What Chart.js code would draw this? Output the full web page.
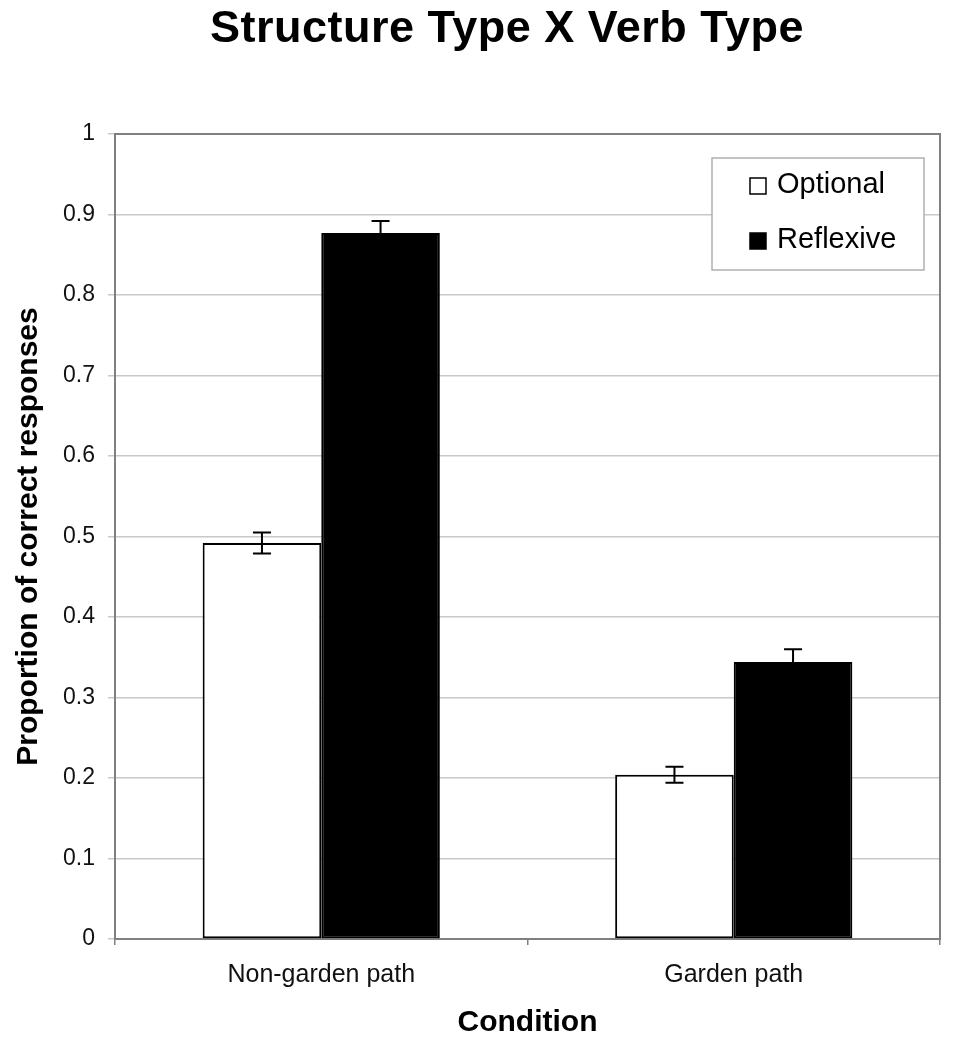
<!DOCTYPE html>
<html>
<head>
<meta charset="utf-8">
<script src="https://cdn.jsdelivr.net/npm/chart.js@4.4.1/dist/chart.umd.min.js"></script>
<style>
  html, body { margin: 0; padding: 0; background: #fff; }
  canvas { display: block; }
</style>
</head>
<body>
<canvas id="myChart" width="953" height="1050"></canvas>
<script>
const categories = ['Non-garden path', 'Garden path'];
const seriesNames = ['Optional', 'Reflexive'];
const optionalValues = [0.492, 0.204];
const reflexiveValues = [0.877, 0.344];
const optionalErrors = [0.013, 0.010];
const reflexiveErrors = [0.015, 0.016];
const yTickLabels = ['0', '0.1', '0.2', '0.3', '0.4', '0.5', '0.6', '0.7', '0.8', '0.9', '1'];
const chartTitle = 'Structure Type X Verb Type';

const fontFamily = '"Liberation Sans", Arial, Helvetica, sans-serif';
const ctx = document.getElementById('myChart');

// title sits a little right of the canvas centre, so draw it by hand
const titleText = {
    id: 'titleText',
    afterDraw(chart) {
        const { ctx } = chart;
        ctx.save();
        ctx.font = 'bold 45px ' + fontFamily;
        ctx.letterSpacing = '0.5px';
        ctx.fillStyle = '#000';
        ctx.textAlign = 'center';
        ctx.textBaseline = 'alphabetic';
        ctx.fillText(chartTitle, 507, 42);
        ctx.restore();
    }
};

// gray frame round the plot area
const frame = {
    id: 'frame',
    beforeDatasetsDraw(chart) {
        const { ctx, chartArea: a } = chart;
        ctx.save();
        ctx.strokeStyle = '#808080';
        ctx.lineWidth = 2;
        ctx.strokeRect(a.left, a.top, a.right - a.left, a.bottom - a.top);
        ctx.restore();
    }
};

const errorBars = {
    id: 'errorBars',
    afterDatasetsDraw(chart) {
        const { ctx } = chart;
        const y = chart.scales.y;
        ctx.save();
        ctx.strokeStyle = '#000';
        ctx.lineWidth = 2;
        chart.data.datasets.forEach((ds, di) => {
            const meta = chart.getDatasetMeta(di);
            meta.data.forEach((bar, i) => {
                const v = ds.data[i];
                const e = ds.errors[i];
                const top = y.getPixelForValue(v + e);
                const bottom = y.getPixelForValue(v - e);
                const x = bar.x;
                ctx.beginPath();
                ctx.moveTo(x, top);
                ctx.lineTo(x, bottom);
                ctx.moveTo(x - 9, top);
                ctx.lineTo(x + 9, top);
                ctx.moveTo(x - 9, bottom);
                ctx.lineTo(x + 9, bottom);
                ctx.stroke();
            });
        });
        ctx.restore();
    }
};

// boxed legend inside the plot, top right
const boxLegend = {
    id: 'boxLegend',
    afterDraw(chart) {
        const { ctx } = chart;
        const bx = 712, by = 158, bw = 212, bh = 112;
        ctx.save();
        ctx.fillStyle = '#fff';
        ctx.fillRect(bx, by, bw, bh);
        ctx.strokeStyle = '#b0b0b0';
        ctx.lineWidth = 1.5;
        ctx.strokeRect(bx, by, bw, bh);
        ctx.font = '29px ' + fontFamily;
        ctx.textBaseline = 'middle';
        chart.data.datasets.forEach((ds, i) => {
            const cy = by + 27 + i * 55;
            ctx.fillStyle = ds.backgroundColor;
            ctx.fillRect(750, cy - 7, 16, 16);
            ctx.strokeStyle = '#000';
            ctx.lineWidth = 1.5;
            ctx.strokeRect(750, cy - 7, 16, 16);
            ctx.fillStyle = '#000';
            ctx.fillText(ds.label, 777, cy);
        });
        ctx.restore();
    }
};

const chart = new Chart(ctx, {
    type: 'bar',
    data: {
        labels: categories,
        datasets: [{
            label: seriesNames[0],
            data: optionalValues,
            errors: optionalErrors,
            backgroundColor: '#ffffff',
            borderColor: '#000000',
            borderWidth: 2,
            borderSkipped: false
        }, {
            label: seriesNames[1],
            data: reflexiveValues,
            errors: reflexiveErrors,
            backgroundColor: '#000000',
            borderColor: '#000000',
            borderWidth: 2,
            borderSkipped: false
        }]
    },
    options: {
        responsive: false,
        animation: false,
        devicePixelRatio: 1,
        datasets: {
            bar: {
                categoryPercentage: 0.575,
                barPercentage: 1.0
            }
        },
        layout: {
            padding: { top: 134, right: 13, bottom: 0, left: 0 }
        },
        plugins: {
            legend: { display: false },
            tooltip: { enabled: false },
            title: { display: false }
        },
        scales: {
            x: {
                afterFit: (scale) => { scale.height = 111; },
                grid: {
                    drawOnChartArea: false,
                    tickLength: 6,
                    color: '#808080',
                    lineWidth: 1.5
                },
                border: { color: '#808080', width: 2 },
                ticks: {
                    color: '#111',
                    padding: 15,
                    font: { family: fontFamily, size: 25 }
                },
                title: {
                    display: true,
                    text: 'Condition',
                    color: '#000',
                    font: { family: fontFamily, size: 30, weight: 'bold' },
                    padding: { top: 0, bottom: 9 }
                }
            },
            y: {
                min: 0,
                max: 1,
                afterFit: (scale) => { scale.width = 115; },
                grid: {
                    color: '#c8c8c8',
                    lineWidth: 1.5,
                    tickLength: 7
                },
                border: { color: '#808080', width: 2 },
                ticks: {
                    stepSize: 0.1,
                    color: '#111',
                    padding: 13,
                    font: { family: fontFamily, size: 23 },
                    callback: (value, index) => yTickLabels[index]
                },
                title: {
                    display: true,
                    text: 'Proportion of correct responses',
                    color: '#000',
                    font: { family: fontFamily, size: 30, weight: 'bold' },
                    padding: { top: 11, bottom: 0 }
                }
            }
        }
    },
    plugins: [titleText, frame, errorBars, boxLegend]
});
</script>
</body>
</html>
